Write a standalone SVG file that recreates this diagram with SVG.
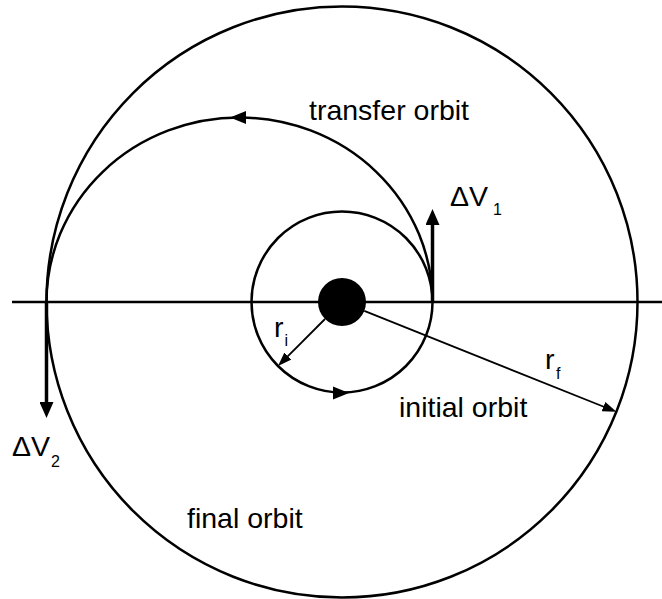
<svg xmlns="http://www.w3.org/2000/svg" width="662" height="599" viewBox="0 0 662 599">
<style>
.orb{fill:none;stroke:#000;stroke-width:2.5}
.axis{fill:none;stroke:#000;stroke-width:2.3}
.thin{fill:none;stroke:#000;stroke-width:1.8}
.bold{fill:none;stroke:#000;stroke-width:3.5}
.head{fill:#000;stroke:none}
.lbl{font-family:"Liberation Sans",Arial,sans-serif;font-size:28.5px;fill:#000}
.sub{font-family:"Liberation Sans",Arial,sans-serif;font-size:16px;fill:#000}
</style>
<defs>
<marker id="mThin" markerUnits="userSpaceOnUse" markerWidth="14" markerHeight="10" refX="1" refY="5" orient="auto" viewBox="0 0 14 10">
<path d="M0,0 L14,5 L0,10 z" fill="#000"/>
</marker>
<marker id="mBold" markerUnits="userSpaceOnUse" markerWidth="16" markerHeight="14" refX="1" refY="7" orient="auto" viewBox="0 0 16 14">
<path d="M0,0 L16,7 L0,14 z" fill="#000"/>
</marker>
</defs>
<rect width="662" height="599" fill="#fff"/>
<line id="axis" class="axis" x1="12" y1="302" x2="662" y2="302"/>
<g id="final-orbit">
<circle class="orb" cx="342" cy="302" r="295.5"/>
</g>
<g id="initial-orbit">
<circle class="orb" cx="342" cy="302" r="90.5"/>
<polygon class="head" points="349,393 333,386.5 333,399.5"/>
</g>
<g id="transfer-orbit">
<path class="orb" d="M46.5,302 A193,184.5 0 0 1 432.5,302"/>
<polygon class="head" points="230,117.5 246,111 246,124"/>
</g>
<g id="central-body">
<circle cx="342" cy="302" r="24" fill="#000"/>
</g>
<g id="connectors">
<line class="bold" x1="432.5" y1="302" x2="432.5" y2="224" marker-end="url(#mBold)"/>
<line class="bold" x1="46.5" y1="302" x2="46.5" y2="403" marker-end="url(#mBold)"/>
<line class="thin" x1="325" y1="319" x2="287.2" y2="356.8" marker-end="url(#mThin)"/>
<line class="thin" x1="364.3" y1="310.9" x2="604.4" y2="407" marker-end="url(#mThin)"/>
</g>
<g id="labels">
<text class="lbl" x="309" y="120">transfer orbit</text>
<text class="lbl" x="399" y="417">initial orbit</text>
<text class="lbl" x="187" y="528">final orbit</text>
<text class="lbl" x="450" y="206">ΔV</text>
<text class="sub" x="493" y="215">1</text>
<text class="lbl" x="12" y="456">ΔV</text>
<text class="sub" x="51" y="467">2</text>
<text class="lbl" x="274" y="337">r</text>
<text class="sub" x="284.5" y="346">i</text>
<text class="lbl" x="545" y="369">r</text>
<text class="sub" x="556" y="379">f</text>
</g>
</svg>
